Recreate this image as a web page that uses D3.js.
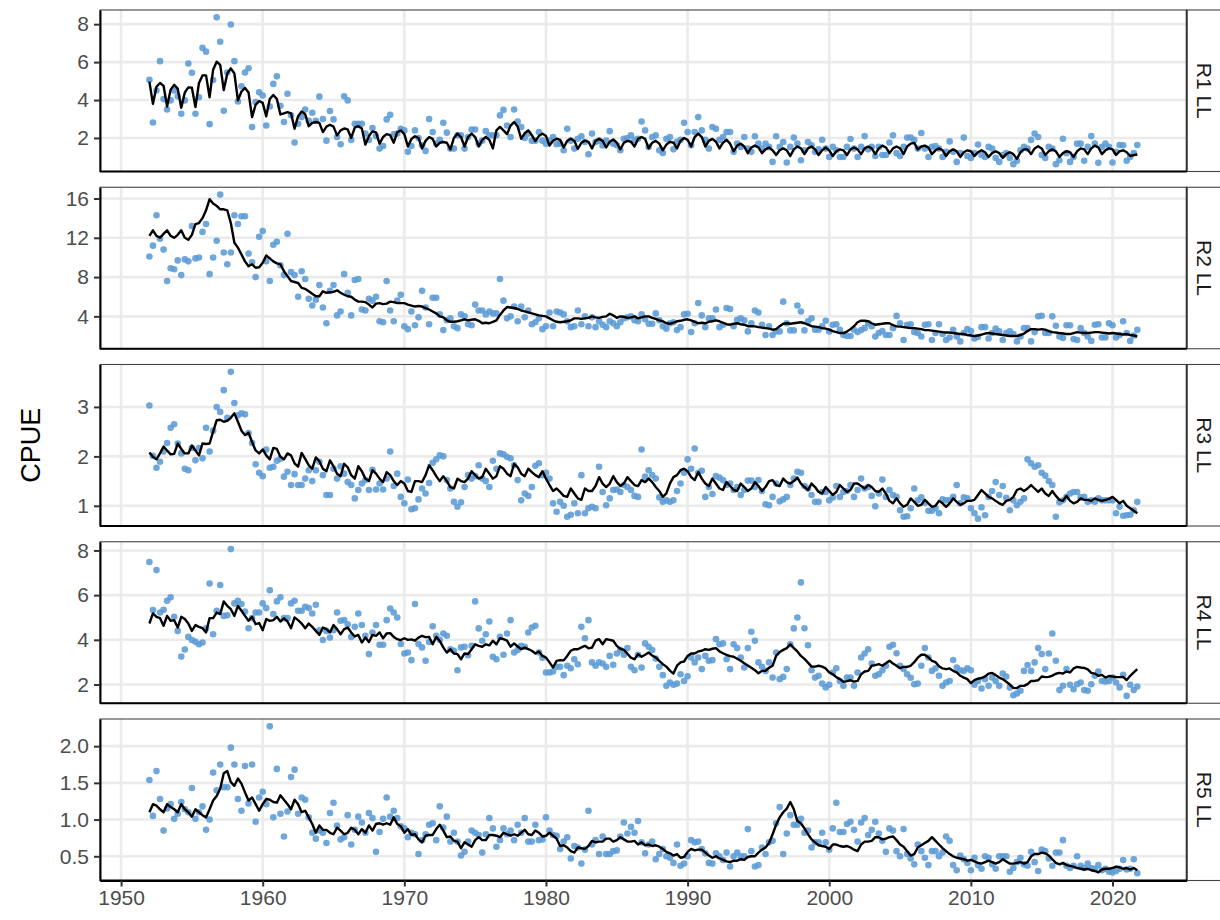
<!DOCTYPE html>
<html>
<head>
<meta charset="utf-8">
<script src="https://cdn.jsdelivr.net/npm/d3@7"></script>
<style>
  body { margin: 0; background: #fff; }
  svg { display: block; font-family: "Liberation Sans", Arial, sans-serif; }
</style>
</head>
<body>
<svg id="chart" width="1220" height="920"></svg>
<script>
// quarterly series, 1952 Q1 .. 2021 Q4 (one row per year)
const firstYear = 1952;
const regions = ["R1 LL", "R2 LL", "R3 LL", "R4 LL", "R5 LL"];
const xTicks = [1950, 1960, 1970, 1980, 1990, 2000, 2010, 2020];
const yTicks = [[2, 4, 6, 8], [4, 8, 12, 16], [1, 2, 3], [2, 4, 6, 8], [0.5, 1.0, 1.5, 2.0]];

const r1Obs = [
  5.07,2.82,4.50,6.05, 4.05,3.50,3.98,4.50, 4.20,3.28,3.98,5.93, 5.44,3.28,4.15,6.75, 6.55,2.73,5.06,8.36,
  7.07,3.43,5.45,7.98, 6.05,3.92,4.73,5.45, 5.68,2.58,3.90,4.41, 4.24,2.66,3.66,4.85, 5.25,3.70,2.84,4.33,
  3.20,1.76,2.75,3.10, 3.50,2.90,3.33,2.90, 4.18,3.00,1.86,3.42, 2.98,2.05,1.67,4.20, 3.98,1.90,2.75,2.75,
  2.75,2.23,1.90,2.52, 2.10,1.44,1.58,2.98, 3.22,2.20,2.23,2.49, 2.40,1.27,1.58,2.40, 2.00,1.62,1.32,3.00,
  2.31,1.70,1.90,2.80, 2.28,1.44,1.44,2.14, 2.14,1.44,2.05,2.45, 2.45,1.70,1.86,2.36, 2.14,2.14,2.14,3.19,
  3.48,2.66,2.05,3.50, 2.87,2.58,2.00,2.23, 1.86,1.86,2.31,1.86, 1.70,1.86,2.05,1.67, 1.70,1.35,2.49,1.86,
  1.44,1.96,2.09,1.79, 1.14,2.23,1.79,1.86, 1.60,1.86,2.36,1.70, 1.62,1.35,1.96,2.00, 2.14,1.90,1.96,2.87,
  2.40,1.53,2.05,2.14, 1.35,1.21,1.96,2.05, 1.40,1.80,1.90,2.80, 2.31,1.62,2.31,3.10, 2.40,1.90,1.44,2.58,
  2.49,1.90,2.05,2.31, 2.31,1.27,1.70,1.53, 2.05,1.44,1.27,2.09, 1.70,1.44,1.70,1.53, 0.74,2.09,1.53,1.79,
  0.71,1.53,2.02,1.70, 0.83,1.35,1.79,1.62, 1.27,1.40,1.91,1.44, 1.00,1.53,1.35,1.00, 1.00,1.53,1.95,1.44,
  1.00,1.53,2.10,1.40, 1.53,1.05,1.53,1.10, 1.10,1.76,2.14,1.20, 1.05,1.53,2.02,2.02, 1.90,1.44,2.26,1.44,
  1.00,1.53,1.58,1.44, 1.00,1.27,1.82,1.27, 0.74,1.20,2.02,1.05, 0.95,1.20,1.65,1.10, 1.00,1.53,1.44,0.95,
  0.74,1.10,1.20,0.95, 0.62,0.80,1.35,1.53, 1.44,1.90,2.23,2.05, 1.10,0.95,1.53,1.44, 0.62,0.83,1.96,1.20,
  0.74,1.00,1.70,1.70, 0.80,1.53,2.10,1.70, 0.69,1.53,1.70,1.53, 0.71,1.27,1.63,1.62, 0.80,1.00,1.20,1.63
];
const r1Fit = [
  4.97,3.80,4.70,4.90, 4.75,3.66,4.55,4.80, 4.60,3.59,4.40,4.67, 4.65,3.63,4.90,5.30, 5.30,4.15,5.60,6.02,
  5.85,4.53,5.40,5.67, 5.40,3.98,4.45,4.64, 4.40,3.10,3.75,3.95, 3.85,3.14,4.05,4.27, 4.05,3.24,3.30,3.36,
  3.30,2.49,3.15,3.40, 3.25,2.62,2.80,2.84, 2.80,2.31,2.60,2.70, 2.60,2.14,2.40,2.50, 2.45,2.00,2.55,2.62,
  2.50,1.65,2.10,2.35, 2.30,1.70,2.05,2.20, 2.15,1.75,2.30,2.40, 2.20,1.55,1.95,2.09, 2.00,1.45,1.85,2.05,
  1.95,1.55,1.75,1.79, 1.75,1.40,2.00,2.23, 2.05,1.55,2.05,2.23, 2.05,1.55,1.90,2.05, 1.90,1.45,2.40,2.58,
  2.40,2.20,2.65,2.84, 2.60,1.96,2.25,2.40, 2.15,1.84,2.10,2.23, 2.10,1.60,1.85,1.96, 1.90,1.50,1.85,1.96,
  1.85,1.42,1.75,1.86, 1.80,1.45,1.85,1.95, 1.85,1.50,1.80,1.92, 1.75,1.40,1.75,1.85, 1.80,1.55,1.95,2.05,
  1.95,1.45,1.75,1.85, 1.70,1.35,1.65,1.80, 1.75,1.45,1.85,2.00, 1.90,1.55,2.05,2.23, 2.05,1.55,1.85,1.95,
  1.80,1.45,1.75,1.90, 1.70,1.30,1.60,1.70, 1.55,1.20,1.50,1.60, 1.50,1.20,1.40,1.50, 1.35,1.10,1.35,1.45,
  1.35,1.05,1.40,1.55, 1.45,1.15,1.45,1.55, 1.40,1.10,1.35,1.50, 1.35,1.05,1.30,1.40, 1.35,1.10,1.40,1.50,
  1.40,1.15,1.45,1.55, 1.45,1.15,1.45,1.60, 1.50,1.20,1.45,1.55, 1.45,1.15,1.55,1.70, 1.74,1.40,1.55,1.60,
  1.50,1.15,1.35,1.45, 1.35,1.05,1.30,1.40, 1.30,1.00,1.25,1.35, 1.30,1.05,1.25,1.35, 1.25,1.00,1.20,1.30,
  1.20,0.95,1.15,1.25, 1.15,0.90,1.25,1.40, 1.40,1.15,1.45,1.56, 1.45,1.10,1.30,1.40, 1.30,1.00,1.20,1.30,
  1.25,1.00,1.30,1.45, 1.40,1.15,1.45,1.60, 1.50,1.15,1.35,1.45, 1.40,1.10,1.30,1.35, 1.25,1.05,1.10,1.13
];

const r2Obs = [
  10.1,11.2,14.3,11.9, 10.8,7.6,8.9,8.8, 9.7,8.2,9.8,9.6, 13.2,9.9,10.0,12.6, 13.4,8.3,10.0,11.7,
  16.4,10.5,9.3,10.5, 14.3,13.4,14.2,14.2, 10.4,9.5,8.0,12.1, 12.7,9.6,7.6,11.3, 11.6,9.2,8.2,12.4,
  8.5,8.2,6.0,8.6, 7.8,5.8,5.1,5.7, 7.2,4.9,3.3,6.6, 7.2,4.1,4.5,8.3, 6.4,4.1,7.7,7.8,
  4.7,4.6,5.8,5.6, 6.0,3.5,3.4,7.6, 4.6,3.5,5.6,6.2, 3.0,2.7,4.5,3.1, 3.9,6.6,4.9,3.2,
  5.9,5.9,4.2,2.6, 3.6,3.8,3.0,2.8, 4.2,4.0,3.2,3.1, 5.2,4.6,4.6,4.2, 4.5,4.3,4.3,7.8,
  5.6,3.8,4.0,5.0, 3.5,5.0,3.9,4.6, 3.2,3.4,3.8,2.7, 3.0,4.4,3.0,4.5, 4.4,4.2,3.5,2.9,
  3.0,4.6,3.2,4.0, 3.0,3.9,2.9,3.5, 3.15,2.9,3.5,3.3, 3.0,3.4,3.8,3.9, 4.0,3.6,3.5,4.2,
  3.7,3.25,3.25,4.3, 3.6,3.0,2.75,3.3, 3.4,2.6,2.9,4.2, 4.27,2.4,3.3,5.36, 4.1,2.9,3.8,3.8,
  4.7,2.9,3.15,4.85, 4.75,3.0,3.65,3.8, 3.6,2.47,3.3,4.6, 4.4,3.15,2.1,3.0, 2.1,2.47,2.47,5.5,
  3.3,2.57,2.57,5.1, 4.5,2.57,3.5,3.8, 2.64,2.64,3.0,3.55, 2.47,3.15,3.2,2.64, 2.1,2.0,2.0,2.64,
  2.4,2.6,2.8,3.3, 3.0,1.95,2.3,2.5, 2.1,2.1,2.8,4.05, 3.3,1.6,3.15,3.2, 2.4,2.3,1.95,3.15,
  3.2,1.6,2.3,3.2, 2.2,1.6,1.85,2.64, 1.95,1.45,2.3,2.7, 2.5,1.75,1.9,2.9, 2.9,1.75,2.3,2.75,
  2.47,1.6,2.3,2.47, 2.2,1.45,1.95,2.8, 2.8,1.45,2.4,4.0, 4.07,2.3,2.3,4.0, 3.05,1.95,1.8,3.1,
  3.1,1.7,1.6,2.8, 2.3,1.95,1.5,3.15, 3.2,1.85,1.85,3.3, 3.1,1.85,2.1,3.5, 2.3,1.5,2.05,2.64
];
const r2Fit = [
  12.2,12.76,12.2,12.0, 12.4,12.76,12.2,12.0, 12.3,12.76,12.0,11.8, 12.3,13.4,13.5,14.0, 14.8,15.93,15.5,15.25,
  14.9,14.9,14.8,13.5, 11.5,11.0,10.3,9.6, 9.1,9.3,8.95,9.0, 9.45,10.2,9.9,9.6, 9.4,9.3,8.6,8.1,
  7.6,7.5,7.4,6.9, 6.8,6.55,6.3,6.05, 6.05,6.55,6.4,6.45, 6.5,6.65,6.4,6.2, 6.05,6.0,5.7,5.5,
  5.5,5.45,5.2,4.9, 5.3,5.35,5.25,5.3, 5.5,5.45,5.35,5.35, 5.35,5.2,5.1,5.0, 5.05,5.0,4.85,4.7,
  4.5,4.3,4.0,3.9, 3.6,3.45,3.45,3.5, 3.6,3.7,3.6,3.65, 3.7,3.55,3.3,3.35, 3.3,3.45,3.6,4.15,
  4.6,4.95,4.9,4.85, 4.75,4.6,4.5,4.4, 4.3,4.2,4.1,4.05, 4.0,3.8,3.6,3.45, 3.4,3.45,3.5,3.6,
  3.8,3.8,3.75,3.8, 3.85,4.0,3.9,3.85, 3.95,4.0,4.27,4.1, 3.85,4.0,3.95,3.85, 3.9,4.0,3.8,3.9,
  4.0,4.0,3.85,3.75, 3.6,3.5,3.3,3.25, 3.35,3.5,3.55,3.65, 3.7,3.6,3.45,3.3, 3.35,3.3,3.45,3.5,
  3.6,3.5,3.35,3.2, 3.15,3.25,3.3,3.2, 3.15,3.0,3.0,2.98, 2.9,2.85,2.8,2.75, 2.64,2.7,3.0,3.25,
  3.3,3.25,3.3,3.35, 3.4,3.3,3.15,3.0, 2.95,2.9,2.8,2.75, 2.65,2.5,2.4,2.3, 2.3,2.45,2.7,3.0,
  3.4,3.56,3.55,3.5, 3.3,3.15,3.2,3.25, 3.3,3.3,3.1,2.98, 2.95,2.9,2.85,2.8, 2.8,2.75,2.7,2.6,
  2.6,2.55,2.5,2.45, 2.4,2.36,2.35,2.3, 2.25,2.2,2.2,2.1, 2.05,2.0,2.05,2.15, 2.25,2.3,2.25,2.2,
  2.15,2.1,2.05,2.0, 2.0,2.0,2.1,2.25, 2.5,2.7,2.7,2.65, 2.7,2.65,2.5,2.4, 2.36,2.3,2.25,2.2,
  2.2,2.3,2.4,2.35, 2.3,2.3,2.35,2.4, 2.4,2.35,2.3,2.25, 2.3,2.25,2.2,2.15, 2.2,2.1,2.05,1.95
];

const r3Obs = [
  3.03,2.01,1.77,1.89, 2.10,2.27,2.58,2.65, 2.26,2.06,1.75,1.72, 2.17,1.92,2.17,1.96, 2.58,2.10,2.52,3.00,
  2.90,3.34,2.78,3.71, 3.08,2.83,2.87,2.85, 2.47,2.27,1.84,1.67, 1.60,2.14,1.77,1.79, 1.91,1.95,1.59,1.69,
  1.42,1.64,1.42,1.42, 1.55,1.72,1.50,1.72, 1.89,1.62,1.22,1.22, 1.75,1.55,1.80,1.65, 1.48,1.42,1.15,1.32,
  1.45,1.52,1.32,1.73, 1.33,1.45,1.33,1.55, 2.10,1.40,1.65,1.18, 1.05,1.53,0.93,0.95, 1.13,1.35,1.25,1.46,
  1.87,1.94,2.02,2.00, 1.52,1.35,1.08,0.98, 1.07,1.38,1.62,1.55, 1.60,1.82,1.55,1.50, 1.38,1.91,1.75,2.06,
  2.04,1.99,1.96,1.82, 1.52,1.11,1.25,1.20, 1.38,1.81,1.86,1.62, 1.67,1.55,1.05,0.88, 1.08,1.00,0.78,0.82,
  1.05,0.85,1.62,0.85, 0.95,0.98,0.95,1.79, 1.28,1.01,1.15,1.32, 1.33,1.28,1.42,1.38, 1.32,1.20,1.18,2.14,
  1.59,1.72,1.62,1.55, 1.17,1.08,1.11,1.08, 1.11,1.30,1.45,1.67, 1.94,1.75,2.16,1.67, 1.71,1.18,1.38,1.24,
  1.60,1.57,1.52,1.42, 1.45,1.32,1.38,1.22, 1.32,1.51,1.51,1.38, 1.52,1.30,1.03,1.01, 1.18,1.45,1.09,1.13,
  1.18,1.42,1.55,1.69, 1.67,1.40,1.35,1.22, 1.08,1.08,1.28,1.28, 1.11,1.17,1.40,1.18, 1.28,1.30,1.42,1.18,
  1.32,1.55,1.35,1.38, 1.20,0.99,1.25,1.53, 1.18,1.32,1.22,1.18, 0.91,0.78,0.79,0.95, 1.35,1.11,1.17,1.06,
  0.90,0.90,0.95,0.85, 1.13,1.11,1.11,1.18, 1.42,1.05,1.17,1.15, 0.95,0.85,0.74,0.97, 0.81,1.18,1.30,1.48,
  1.22,1.40,1.16,0.91, 1.11,1.01,1.08,1.15, 1.94,1.86,1.79,1.82, 1.67,1.61,1.50,1.42, 0.78,1.07,1.11,1.18,
  1.25,1.28,1.28,1.17, 1.18,1.08,1.11,1.08, 1.15,1.11,1.11,1.11, 1.11,0.85,0.98,0.80, 0.81,0.82,0.91,1.08
];
const r3Fit = [
  2.08,1.99,1.94,2.06, 2.20,2.12,2.04,2.05, 2.26,2.15,2.06,2.06, 2.22,2.12,2.02,2.26, 2.25,2.26,2.50,2.73,
  2.74,2.70,2.72,2.78, 2.87,2.70,2.52,2.43, 2.48,2.29,2.12,2.06, 2.14,2.02,1.94,2.17, 2.15,1.99,1.94,2.06,
  2.02,1.86,1.79,2.07, 1.95,1.82,1.75,1.98, 1.90,1.75,1.70,1.92, 1.80,1.65,1.60,1.85, 1.78,1.62,1.55,1.80,
  1.70,1.55,1.50,1.72, 1.65,1.55,1.48,1.68, 1.62,1.50,1.42,1.50, 1.45,1.30,1.28,1.50, 1.50,1.48,1.62,1.82,
  1.72,1.60,1.50,1.60, 1.50,1.38,1.35,1.55, 1.50,1.48,1.55,1.70, 1.62,1.55,1.58,1.75, 1.65,1.55,1.60,1.80,
  1.75,1.65,1.60,1.85, 1.78,1.65,1.60,1.75, 1.68,1.62,1.58,1.70, 1.55,1.42,1.30,1.35, 1.28,1.20,1.18,1.35,
  1.25,1.15,1.12,1.35, 1.30,1.30,1.40,1.58, 1.45,1.38,1.45,1.60, 1.48,1.40,1.45,1.58, 1.50,1.42,1.40,1.52,
  1.48,1.55,1.48,1.38, 1.30,1.18,1.25,1.45, 1.58,1.62,1.72,1.75, 1.70,1.58,1.52,1.68, 1.55,1.45,1.40,1.55,
  1.45,1.35,1.32,1.48, 1.40,1.32,1.30,1.45, 1.38,1.30,1.35,1.48, 1.40,1.30,1.38,1.50, 1.52,1.42,1.40,1.55,
  1.48,1.45,1.50,1.57, 1.45,1.38,1.32,1.45, 1.38,1.28,1.25,1.38, 1.30,1.22,1.28,1.42, 1.35,1.28,1.32,1.45,
  1.45,1.40,1.35,1.42, 1.38,1.30,1.28,1.35, 1.25,1.10,1.05,1.15, 1.05,0.98,1.02,1.15, 1.08,1.00,1.02,1.12,
  1.05,0.98,1.00,1.10, 1.05,0.98,1.05,1.15, 1.08,1.02,1.05,1.10, 1.10,1.12,1.22,1.32, 1.25,1.18,1.15,1.10,
  1.05,1.02,1.10,1.12, 1.18,1.32,1.35,1.30, 1.35,1.42,1.35,1.28, 1.35,1.25,1.20,1.30, 1.20,1.12,1.10,1.20,
  1.10,1.05,1.08,1.15, 1.12,1.12,1.10,1.15, 1.12,1.10,1.12,1.14, 1.18,1.12,1.05,1.10, 1.00,0.95,0.90,0.85
];

const r4Obs = [
  7.48,5.33,7.12,5.22, 5.34,5.75,5.90,5.03, 4.40,3.25,3.57,4.13, 3.99,3.91,3.80,3.88, 4.51,6.52,4.25,5.30,
  6.45,5.07,5.10,8.06, 5.63,5.75,5.60,5.27, 4.52,4.97,5.22,5.22, 5.63,5.42,6.22,5.15, 5.72,5.90,4.97,4.97,
  5.63,5.75,5.30,5.30, 5.48,5.42,5.18,5.57, 4.43,3.99,4.40,4.10, 4.43,5.22,4.85,4.88, 4.70,4.13,4.58,5.18,
  4.66,4.18,3.36,4.33, 4.66,3.78,3.78,4.88, 5.40,5.22,5.00,3.81, 3.39,3.43,3.09,5.60, 3.81,3.66,3.06,3.90,
  4.61,4.18,4.00,4.28, 4.18,3.58,3.51,2.64, 3.66,3.69,3.31,3.73, 5.72,4.51,3.96,4.25, 4.82,3.24,3.13,4.13,
  3.33,4.28,4.88,3.43, 3.54,3.73,3.69,4.33, 4.55,4.63,3.43,3.20, 2.54,2.54,2.58,2.79, 2.79,2.42,2.84,2.73,
  3.13,2.91,4.58,4.07, 4.88,2.99,2.84,2.99, 2.94,2.79,3.28,2.88, 3.39,3.54,3.33,3.63, 2.79,2.64,3.33,2.76,
  3.84,3.69,3.54,3.16, 2.79,2.42,1.94,2.09, 1.99,2.04,2.46,2.16, 2.37,3.21,2.99,3.21, 2.69,3.28,3.06,3.09,
  4.03,3.80,3.84,3.13, 2.69,3.80,3.63,3.21, 2.76,3.63,4.36,3.96, 2.99,2.79,2.61,2.99, 2.31,3.43,2.24,2.34,
  2.69,3.80,4.51,5.00, 6.57,4.52,3.76,2.64, 2.31,2.39,2.04,1.87, 1.99,2.54,2.73,2.16, 1.94,2.31,2.31,1.94,
  2.54,3.21,3.39,3.58, 2.94,2.39,2.46,2.64, 2.84,3.69,3.78,3.40, 2.84,2.69,2.46,2.30, 2.01,2.04,2.84,3.63,
  3.21,2.61,2.72,2.39, 1.94,2.09,2.16,3.10, 2.76,2.64,2.61,2.72, 2.64,1.99,2.16,1.82, 2.24,1.94,2.31,2.16,
  1.94,2.49,2.36,1.87, 1.52,1.60,1.72,2.61, 2.87,2.61,2.99,3.63, 3.36,2.69,3.39,4.28, 3.06,1.75,1.94,2.69,
  1.99,1.79,2.01,2.09, 1.75,1.72,2.01,2.39, 2.58,2.16,2.13,2.16, 2.31,2.09,1.87,2.43, 1.49,1.99,1.75,1.91
];
const r4Fit = [
  4.73,5.18,5.03,4.97, 4.63,5.07,4.85,4.88, 4.55,5.03,4.93,4.73, 4.40,4.66,4.58,4.52, 4.33,4.97,4.97,5.22,
  5.15,5.72,5.52,5.37, 5.07,5.52,5.30,5.07, 4.85,5.03,4.70,4.75, 4.43,4.93,4.85,4.88, 5.03,4.82,4.96,4.82,
  4.52,5.00,4.88,4.73, 4.52,4.73,4.58,4.40, 4.22,4.55,4.48,4.33, 4.66,4.48,4.25,4.48, 4.55,4.33,4.15,4.22,
  3.88,4.10,3.90,4.22, 4.18,4.33,4.07,4.28, 4.30,4.13,4.03,3.99, 4.07,4.00,4.02,3.96, 4.10,4.18,4.12,4.13,
  3.80,4.13,3.95,3.66, 3.43,3.58,3.39,3.36, 3.13,3.39,3.36,3.58, 3.80,3.73,3.69,3.80, 3.75,3.96,3.80,4.07,
  4.03,3.96,3.69,3.84, 3.70,3.58,3.65,3.58, 3.51,3.39,3.48,3.28, 3.21,2.99,2.76,3.06, 3.09,3.08,3.28,3.51,
  3.58,3.58,3.66,3.73, 3.62,3.65,3.96,4.03, 3.80,4.03,4.00,3.96, 3.73,3.60,3.55,3.38, 3.20,3.13,3.36,3.24,
  3.33,3.43,3.30,3.21, 3.06,2.91,2.80,2.62, 2.49,2.84,2.99,3.03, 3.28,3.39,3.39,3.48, 3.51,3.58,3.55,3.60,
  3.63,3.48,3.40,3.33, 3.27,3.24,3.15,3.06, 2.95,2.85,2.75,2.64, 2.50,2.61,2.61,2.75, 2.84,3.28,3.45,3.55,
  3.63,3.80,3.63,3.48, 3.28,3.15,2.98,2.80, 2.80,2.84,2.80,2.72, 2.54,2.46,2.33,2.24, 2.12,2.15,2.19,2.13,
  2.16,2.46,2.58,2.61, 2.84,2.87,2.91,2.84, 2.95,3.06,2.94,2.84, 2.73,2.79,2.79,2.84, 3.00,3.20,3.33,3.33,
  3.21,3.06,3.00,2.82, 2.72,2.69,2.72,2.61, 2.54,2.39,2.31,2.24, 2.06,2.20,2.26,2.29, 2.36,2.49,2.52,2.42,
  2.31,2.24,2.12,2.00, 1.85,1.84,1.94,1.94, 2.02,2.16,2.16,2.19, 2.36,2.33,2.34,2.40, 2.48,2.52,2.49,2.58,
  2.54,2.72,2.79,2.76, 2.74,2.68,2.52,2.49, 2.39,2.43,2.31,2.38, 2.36,2.33,2.33,2.34, 2.20,2.39,2.54,2.69
];

const r5Obs = [
  1.54,1.05,1.66,1.28, 0.85,1.15,1.21,1.01, 1.08,1.24,1.14,1.10, 1.43,1.01,1.10,1.18, 0.86,1.00,1.64,1.40,
  1.75,1.44,1.44,1.98, 1.75,1.28,1.12,1.73, 1.22,1.75,0.97,1.30, 1.38,1.21,2.27,1.03, 1.69,1.08,0.77,1.11,
  1.58,1.68,1.08,1.30, 1.27,1.03,0.82,0.74, 0.85,0.82,0.68,1.09, 1.23,0.92,0.73,0.76, 1.06,0.66,0.86,1.04,
  0.96,0.82,1.09,1.02, 0.56,0.83,1.01,1.30, 1.04,1.12,1.02,0.91, 0.88,0.76,0.82,0.80, 0.53,0.72,0.80,0.93,
  0.95,0.72,1.18,0.89, 1.04,0.70,0.82,0.70, 0.51,0.56,0.70,0.85, 0.82,0.79,0.55,0.80, 1.02,0.88,0.63,0.72,
  0.88,0.80,0.85,0.72, 0.93,0.82,1.02,0.70, 0.70,0.93,0.72,0.73, 1.03,0.85,0.79,0.78, 0.60,0.70,0.76,0.47,
  0.64,0.62,0.40,0.59, 1.12,0.66,0.72,0.53, 0.77,0.53,0.53,0.57, 0.58,0.77,0.96,0.81, 0.90,0.82,0.98,0.69,
  0.54,0.66,0.70,0.46, 0.53,0.60,0.50,0.48, 0.41,0.66,0.37,0.40, 0.50,0.72,0.69,0.70, 0.60,0.54,0.41,0.40,
  0.54,0.50,0.45,0.55, 0.36,0.50,0.55,0.50, 0.50,0.87,0.57,0.36, 0.38,0.62,0.53,0.69, 0.71,0.95,1.17,0.53,
  0.81,1.06,0.93,0.93, 1.01,0.82,0.85,0.62, 0.69,0.69,0.82,0.69, 0.59,0.88,1.23,0.83, 0.83,0.94,0.97,0.86,
  0.70,0.96,1.02,0.79, 0.86,0.97,0.81,0.71, 0.56,0.88,0.85,0.57, 0.50,0.87,0.53,0.47, 0.39,0.66,0.57,0.48,
  0.38,0.57,0.57,0.50, 0.55,0.77,0.71,0.38, 0.31,0.51,0.46,0.41, 0.31,0.48,0.38,0.33, 0.50,0.48,0.39,0.33,
  0.50,0.50,0.50,0.29, 0.34,0.42,0.48,0.39, 0.37,0.56,0.42,0.30, 0.59,0.57,0.47,0.37, 0.55,0.55,0.72,0.37,
  0.34,0.37,0.50,0.37, 0.34,0.40,0.34,0.33, 0.38,0.31,0.33,0.29, 0.28,0.30,0.33,0.45, 0.32,0.33,0.46,0.27
];
const r5Fit = [
  1.10,1.21,1.19,1.14, 1.10,1.21,1.17,1.14, 1.10,1.21,1.14,1.10, 1.04,1.14,1.10,1.06, 1.03,1.14,1.26,1.32,
  1.42,1.63,1.66,1.51, 1.46,1.56,1.49,1.37, 1.26,1.30,1.21,1.12, 1.21,1.28,1.27,1.24, 1.23,1.33,1.27,1.21,
  1.14,1.27,1.21,1.10, 1.12,1.03,0.94,0.82, 0.92,0.86,0.86,0.82, 0.80,0.89,0.85,0.80, 0.82,0.89,0.86,0.80,
  0.87,0.82,0.92,0.85, 0.94,0.95,0.93,0.95, 0.93,1.03,0.94,0.91, 0.82,0.87,0.79,0.80, 0.73,0.69,0.78,0.79,
  0.79,0.87,0.93,0.85, 0.76,0.77,0.71,0.70, 0.61,0.69,0.66,0.63, 0.72,0.76,0.72,0.72, 0.79,0.79,0.78,0.76,
  0.82,0.80,0.78,0.80, 0.78,0.82,0.86,0.80, 0.79,0.85,0.82,0.77, 0.78,0.82,0.78,0.74, 0.64,0.65,0.62,0.57,
  0.55,0.62,0.61,0.60, 0.64,0.71,0.69,0.70, 0.70,0.74,0.74,0.70, 0.72,0.76,0.73,0.70, 0.70,0.71,0.66,0.69,
  0.65,0.66,0.64,0.65, 0.63,0.60,0.56,0.54, 0.51,0.53,0.48,0.49, 0.56,0.60,0.58,0.59, 0.59,0.55,0.51,0.48,
  0.50,0.47,0.45,0.43, 0.42,0.44,0.44,0.46, 0.45,0.49,0.50,0.50, 0.55,0.59,0.62,0.68, 0.80,0.93,1.03,1.10,
  1.15,1.24,1.14,0.98, 0.95,0.88,0.80,0.73, 0.69,0.65,0.64,0.63, 0.60,0.66,0.66,0.64, 0.63,0.64,0.62,0.59,
  0.57,0.66,0.70,0.70, 0.71,0.76,0.76,0.73, 0.74,0.76,0.77,0.72, 0.66,0.63,0.57,0.51, 0.53,0.62,0.65,0.68,
  0.71,0.76,0.71,0.66, 0.61,0.57,0.53,0.50, 0.48,0.47,0.46,0.44, 0.45,0.43,0.41,0.40, 0.42,0.44,0.42,0.40,
  0.42,0.46,0.43,0.40, 0.40,0.41,0.42,0.40, 0.42,0.50,0.53,0.53, 0.55,0.54,0.51,0.46, 0.41,0.39,0.41,0.38,
  0.37,0.36,0.34,0.33, 0.32,0.33,0.31,0.30, 0.28,0.32,0.33,0.33, 0.34,0.36,0.35,0.33, 0.34,0.32,0.34,0.31
];

const panels = [
  {label: regions[0], obs: r1Obs, fit: r1Fit, ticks: yTicks[0]},
  {label: regions[1], obs: r2Obs, fit: r2Fit, ticks: yTicks[1]},
  {label: regions[2], obs: r3Obs, fit: r3Fit, ticks: yTicks[2]},
  {label: regions[3], obs: r4Obs, fit: r4Fit, ticks: yTicks[3]},
  {label: regions[4], obs: r5Obs, fit: r5Fit, ticks: yTicks[4]}
];

const plotLeft = 100, plotRight = 1186.7, plotTop = 10, panelH = 161.5, panelStep = 177.25;
const stripW = 40;
const pointColor = "#5b9bd5", gridColor = "#ebebeb", textColor = "#4d4d4d";
const tickFont = 21;

// ggplot-style 5% expansion
function expand(ext) {
  const r = ext[1] - ext[0];
  return [ext[0] - 0.05 * r, ext[1] + 0.05 * r];
}
const quarterTime = i => firstYear + i / 4;
const n = r1Obs.length;

const svg = d3.select("#chart");
svg.append("rect").attr("width", 1220).attr("height", 920).attr("fill", "#fff");

const x = d3.scaleLinear()
  .domain(expand([quarterTime(0), quarterTime(n - 1)]))
  .range([plotLeft, plotRight]);

panels.forEach((p, k) => {
  const y0 = plotTop + k * panelStep;
  const g = svg.append("g").attr("transform", `translate(0,${y0})`);

  const y = d3.scaleLinear()
    .domain(expand(d3.extent(p.obs.concat(p.fit))))
    .range([panelH, 0]);

  g.append("rect")
    .attr("x", plotLeft).attr("y", 0)
    .attr("width", plotRight - plotLeft).attr("height", panelH)
    .attr("fill", "#fff");

  // grid
  g.append("g").selectAll("line").data(xTicks).join("line")
    .attr("x1", d => x(d)).attr("x2", d => x(d))
    .attr("y1", 0).attr("y2", panelH)
    .attr("stroke", gridColor).attr("stroke-width", 2.6);
  g.append("g").selectAll("line").data(p.ticks).join("line")
    .attr("x1", plotLeft).attr("x2", plotRight)
    .attr("y1", d => y(d)).attr("y2", d => y(d))
    .attr("stroke", gridColor).attr("stroke-width", 2.6);

  // observed points
  g.append("g").selectAll("circle").data(p.obs).join("circle")
    .attr("cx", (d, i) => x(quarterTime(i)))
    .attr("cy", d => y(d))
    .attr("r", 3.3)
    .attr("fill", pointColor)
    .attr("fill-opacity", 0.88);

  // fitted line
  const line = d3.line()
    .x((d, i) => x(quarterTime(i)))
    .y(d => y(d));
  g.append("path")
    .datum(p.fit)
    .attr("d", line)
    .attr("fill", "none")
    .attr("stroke", "#000")
    .attr("stroke-width", 2.4)
    .attr("stroke-linejoin", "round");

  // panel border
  g.append("rect")
    .attr("x", plotLeft).attr("y", 0)
    .attr("width", plotRight - plotLeft).attr("height", panelH)
    .attr("fill", "none").attr("stroke", "#444").attr("stroke-width", 1.1);

  // strip
  g.append("rect")
    .attr("x", plotRight).attr("y", 0)
    .attr("width", stripW).attr("height", panelH)
    .attr("fill", "#fff").attr("stroke", "#444").attr("stroke-width", 1.1);
  g.append("line")
    .attr("x1", plotRight).attr("x2", plotRight)
    .attr("y1", 0).attr("y2", panelH)
    .attr("stroke", "#333").attr("stroke-width", 2);
  g.append("text")
    .attr("transform", `translate(${plotRight + 18},${panelH / 2}) rotate(90)`)
    .attr("text-anchor", "middle")
    .attr("dy", "0.35em")
    .attr("font-size", tickFont)
    .attr("fill", "#1a1a1a")
    .text(p.label);

  // y axis
  const yAxis = d3.axisLeft(y)
    .tickValues(p.ticks)
    .tickSizeInner(6).tickSizeOuter(0).tickPadding(5)
    .tickFormat(k === 4 ? d3.format(".1f") : d3.format("d"));
  const ya = g.append("g").attr("transform", `translate(${plotLeft},0)`).call(yAxis);
  ya.select(".domain").attr("stroke", "#000").attr("stroke-width", 2);
  ya.selectAll(".tick line").attr("stroke", "#333").attr("stroke-width", 2);
  ya.selectAll(".tick text").attr("fill", textColor).attr("font-size", tickFont)
    .attr("font-family", "Liberation Sans, Arial, sans-serif");

  // bottom axis line
  g.append("line")
    .attr("x1", plotLeft).attr("x2", plotRight)
    .attr("y1", panelH).attr("y2", panelH)
    .attr("stroke", "#000").attr("stroke-width", 2);

  if (k === panels.length - 1) {
    const xAxis = d3.axisBottom(x)
      .tickValues(xTicks)
      .tickSizeInner(6).tickSizeOuter(0).tickPadding(4)
      .tickFormat(d3.format("d"));
    const xa = g.append("g").attr("transform", `translate(0,${panelH})`).call(xAxis);
    xa.select(".domain").attr("stroke", "#000").attr("stroke-width", 2);
    xa.selectAll(".tick line").attr("stroke", "#333").attr("stroke-width", 2);
    xa.selectAll(".tick text").attr("fill", textColor).attr("font-size", tickFont)
      .attr("font-family", "Liberation Sans, Arial, sans-serif");
  }
});

// y title
svg.append("text")
  .attr("transform", `translate(31,${plotTop + (4 * panelStep + panelH) / 2}) rotate(-90)`)
  .attr("text-anchor", "middle")
  .attr("dy", "0.35em")
  .attr("font-size", 27)
  .attr("fill", "#000")
  .text("CPUE");
</script>
</body>
</html>
